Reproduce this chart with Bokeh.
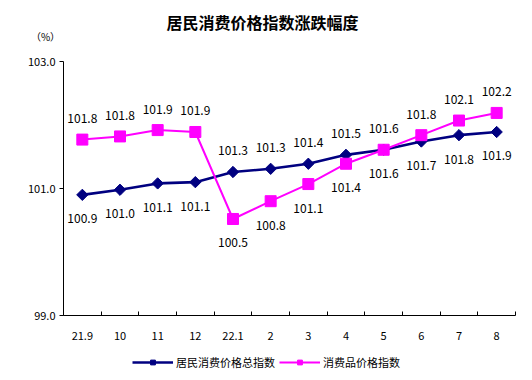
from bokeh.plotting import figure
from bokeh.layouts import column
from bokeh.models import (ColumnDataSource, FixedTicker, Range1d, Label, Legend,
                          LegendItem, NumeralTickFormatter)
from bokeh.core.properties import value
from bokeh.embed import file_html
from bokeh.resources import INLINE

# ---- data ----
title_text = "居民消费价格指数涨跌幅度"
unit_text = "（%）"
categories = ["21.9", "10", "11", "12", "22.1", "2", "3", "4", "5", "6", "7", "8"]
cpi_total = [100.90, 100.98, 101.08, 101.10, 101.26, 101.31, 101.39, 101.53, 101.61, 101.74, 101.84, 101.89]
cpi_goods = [101.77, 101.82, 101.92, 101.89, 100.52, 100.80, 101.07, 101.39, 101.61, 101.84, 102.07, 102.19]
series_names = ["居民消费价格总指数", "消费品价格指数"]
y_ticks = [99.0, 101.0, 103.0]

FONT = "Noto Sans CJK SC"
NAVY = "#000080"
MAGENTA = "#FF00FF"
W = 532

# ---- main chart ----
xs = [i + 0.5 for i in range(len(categories))]

p = figure(width=W, height=345, x_range=Range1d(0, len(categories)),
           y_range=Range1d(y_ticks[0], y_ticks[-1]),
           output_backend="svg", toolbar_location=None,
           min_border_left=63, min_border_right=17, min_border_top=61, min_border_bottom=30)
p.outline_line_color = None
p.grid.visible = False
p.background_fill_color = "white"

# title and unit drawn in the space above the plot area
p.add_layout(Label(x=199, y=40, x_units="screen", y_units="screen", text=title_text,
                   text_font=FONT, text_font_size="16px", text_font_style="bold",
                   text_color="black", text_align="center", text_baseline="middle"), "above")
p.add_layout(Label(x=-18, y=1, x_units="screen", y_units="screen", text=unit_text,
                   text_font=FONT, text_font_size="10px", text_color="black",
                   text_align="center", text_baseline="middle"), "above")

xa = p.xaxis[0]
xa.ticker = FixedTicker(ticks=xs, minor_ticks=list(range(len(categories) + 1)))
xa.major_label_overrides = {x: c for x, c in zip(xs, categories)}
xa.major_tick_line_color = None
xa.minor_tick_in = 4
xa.minor_tick_out = 0
xa.minor_tick_line_color = "black"
xa.major_label_standoff = 10
xa.major_label_text_font = FONT
xa.major_label_text_font_size = "11px"
xa.major_label_text_color = "black"
xa.axis_line_color = "black"

ya = p.yaxis[0]
ya.ticker = FixedTicker(ticks=y_ticks)
ya.formatter = NumeralTickFormatter(format="0.0")
ya.major_tick_in = 0
ya.major_tick_out = 4
ya.minor_tick_line_color = None
ya.major_label_standoff = 4
ya.major_label_text_font = FONT
ya.major_label_text_font_size = "11px"
ya.major_label_text_color = "black"
ya.axis_line_color = "black"

src_t = ColumnDataSource(dict(x=xs, y=cpi_total))
src_g = ColumnDataSource(dict(x=xs, y=cpi_goods))
line_t = dict(line_color=NAVY, line_width=2.6)
mark_t = dict(marker="square", angle=0.785398, size=8, fill_color=NAVY, line_color=NAVY)
line_g = dict(line_color=MAGENTA, line_width=2)
mark_g = dict(marker="square", size=11, fill_color=MAGENTA, line_color=MAGENTA)
p.line("x", "y", source=src_t, **line_t)
p.scatter("x", "y", source=src_t, **mark_t)
p.line("x", "y", source=src_g, **line_g)
p.scatter("x", "y", source=src_g, **mark_g)

# data labels: the higher series gets its label above, the other below
above_x, above_y, above_t, below_x, below_y, below_t = [], [], [], [], [], []
for x, t, g in zip(xs, cpi_total, cpi_goods):
    hi_g = g >= t
    for v, is_hi in ((t, not hi_g), (g, hi_g)):
        if is_hi:
            above_x.append(x); above_y.append(v); above_t.append(f"{v:.1f}")
        else:
            below_x.append(x); below_y.append(v); below_t.append(f"{v:.1f}")

common = dict(text_font=value(FONT), text_font_size="12px", text_color="black",
              text_align="center", text_baseline="middle")
p.text(x=above_x, y=above_y, text=above_t, y_offset=-21, **common)
p.text(x=below_x, y=below_y, text=below_t, y_offset=24, **common)

# ---- legend strip (series drawn outside its visible range, only the key shows) ----
lf = figure(width=W, height=35, x_range=Range1d(0, 1), y_range=Range1d(0, 1),
            output_backend="svg", toolbar_location=None,
            min_border_left=0, min_border_right=0, min_border_top=0, min_border_bottom=0)
lf.axis.visible = False
lf.grid.visible = False
lf.outline_line_color = None
r1 = [lf.line("x", "y", source=src_t, **line_t), lf.scatter("x", "y", source=src_t, **mark_t)]
r2 = [lf.line("x", "y", source=src_g, **line_g), lf.scatter("x", "y", source=src_g, **mark_g)]
legend = Legend(items=[LegendItem(label=series_names[0], renderers=r1),
                       LegendItem(label=series_names[1], renderers=r2)],
                orientation="horizontal", location=(69, 10),
                glyph_width=41, glyph_height=12, label_standoff=3, spacing=4,
                padding=0, margin=0, border_line_color=None, background_fill_alpha=0,
                label_text_font=FONT, label_text_font_size="11px", label_text_color="black")
lf.add_layout(legend, "center")

layout = column(p, lf, spacing=0)
open("out.html", "w").write(file_html(layout, INLINE))
